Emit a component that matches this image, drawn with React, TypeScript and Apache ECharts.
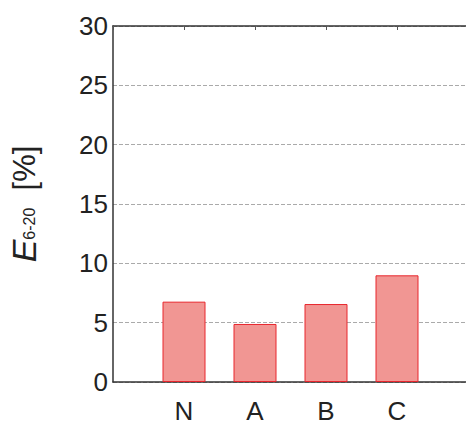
import React, { useEffect, useRef } from "react";
import * as echarts from "echarts";

const categories = ["N", "A", "B", "C"];
const values = [6.77, 4.89, 6.57, 8.99];
const yTicks = [0, 5, 10, 15, 20, 25, 30];

const FONT = "'Liberation Sans', Arial, Helvetica, sans-serif";

export default function App() {
  const ref = useRef<HTMLDivElement>(null);
  useEffect(() => {
    if (!ref.current) return;
    const chart = echarts.init(ref.current, null, { renderer: "svg" });
    const data = values.map((v, i) => [i + 1, v]);
    chart.setOption({
      animation: false,
      backgroundColor: "#ffffff",
      grid: { left: 113, top: 26, width: 355, height: 356, outerBoundsMode: "none", containLabel: false },
      xAxis: [
        {
          type: "value",
          min: 0,
          max: 5,
          interval: 1,
          position: "bottom",
          axisLine: { show: true, lineStyle: { color: "#333", width: 1.5 } },
          axisTick: { show: false },
          splitLine: { show: false },
          axisLabel: {
            margin: 16,
            fontSize: 26,
            fontFamily: FONT,
            color: "#222",
            formatter: (v: number) => categories[v - 1] ?? "",
          },
        },
        {
          type: "value",
          min: 0,
          max: 5,
          interval: 1,
          position: "top",
          axisLine: { show: true, lineStyle: { color: "#333", width: 1.5 } },
          axisTick: { show: true, inside: true, length: 4, lineStyle: { color: "#555" } },
          splitLine: { show: false },
          axisLabel: { show: false },
        },
      ],
      yAxis: {
        type: "value",
        min: yTicks[0],
        max: yTicks[yTicks.length - 1],
        interval: 5,
        axisLine: { show: true, lineStyle: { color: "#333", width: 1.5 } },
        axisTick: { show: false },
        splitLine: {
          show: true,
          lineStyle: { color: "#aaa", type: [4, 2], width: 1 },
        },
        axisLabel: {
          margin: 5,
          fontSize: 26,
          fontFamily: FONT,
          color: "#222",
        },
        name: "{e|E}{s|6-20}{u|  [%]}",
        nameLocation: "middle",
        nameRotate: 90,
        nameGap: 72,
        nameTextStyle: {
          fontFamily: FONT,
          color: "#222",
          rich: {
            e: { fontSize: 34, fontStyle: "italic", fontFamily: FONT, color: "#222" },
            s: { fontSize: 16, fontFamily: FONT, color: "#222", verticalAlign: "bottom", padding: [0, 0, 4, 0] },
            u: { fontSize: 31, fontFamily: FONT, color: "#222" },
          },
        },
      },
      series: [
        {
          type: "bar",
          xAxisIndex: 0,
          data,
          barWidth: 43,
          itemStyle: {
            color: "#f19693",
            borderColor: "#e8262d",
            borderWidth: 1,
          },
        },
      ],
    });
    return () => chart.dispose();
  }, []);
  return (
    <div
      ref={ref}
      style={{ position: "fixed", left: 0, top: 0, width: 466, height: 426 }}
    />
  );
}
